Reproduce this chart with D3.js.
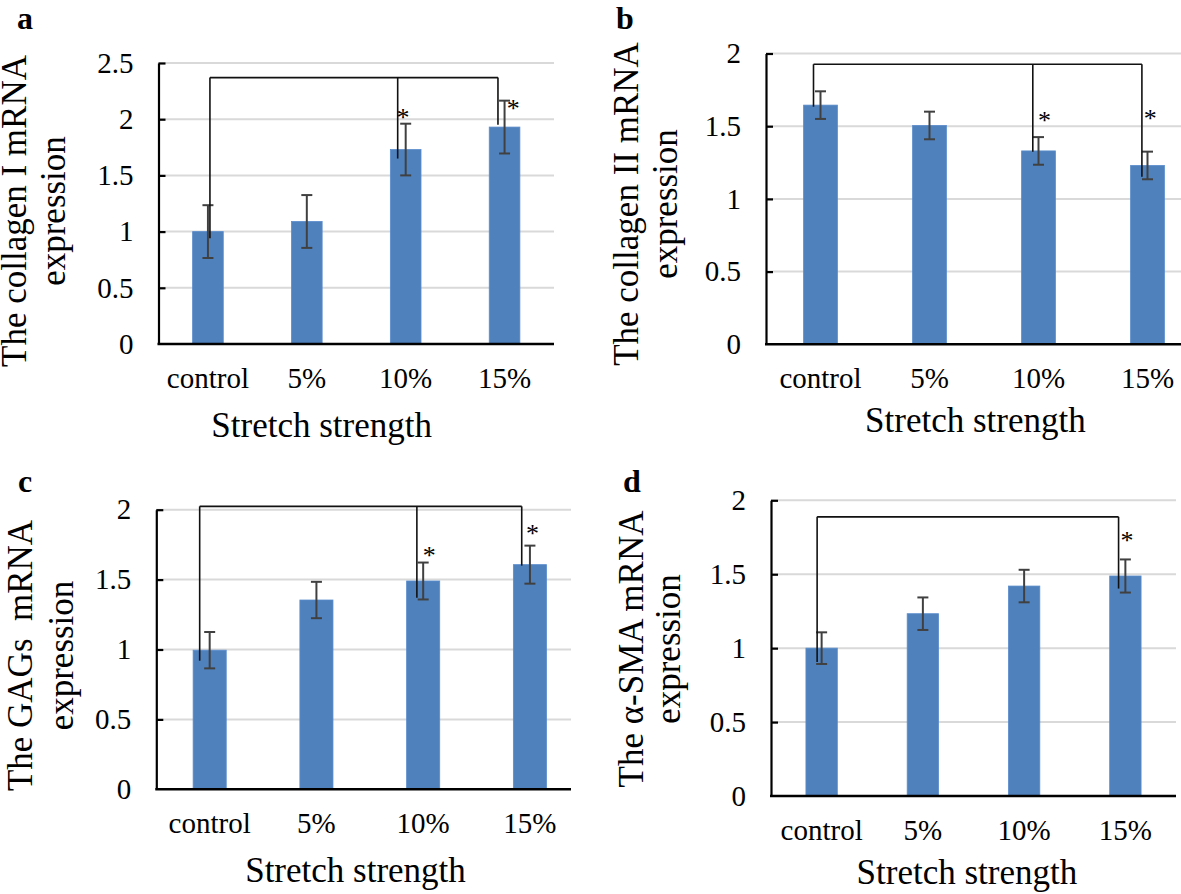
<!DOCTYPE html>
<html><head><meta charset="utf-8">
<script src="https://cdn.jsdelivr.net/npm/d3@7"></script>
<style>
body{margin:0;background:#fff}
svg{display:block;background:#fff}
text{font-family:"Liberation Serif","Times New Roman",serif;fill:#000}
</style>
</head><body>
<svg id="chart" width="1181" height="894"></svg>
<script>
// ---------- data ----------
const categories = ["control", "5%", "10%", "15%"];
const col1Mean = [1.00, 1.09, 1.73, 1.93];
const col1Err  = [0.235, 0.235, 0.23, 0.235];
const col2Mean = [1.645, 1.505, 1.33, 1.23];
const col2Err  = [0.095, 0.095, 0.095, 0.095];
const gagsMean = [0.995, 1.354, 1.49, 1.607];
const gagsErr  = [0.13, 0.13, 0.132, 0.136];
const smaMean  = [1.00, 1.233, 1.42, 1.488];
const smaErr   = [0.107, 0.11, 0.11, 0.112];
const yTicksA  = [0, 0.5, 1, 1.5, 2, 2.5];
const yTicks2  = [0, 0.5, 1, 1.5, 2];
const xTitle   = "Stretch strength";
const titleA = ["The collagen I mRNA", "expression"];
const titleB = ["The collagen II mRNA", "expression"];
const titleC = ["The GAGs\u00a0 mRNA", "expression"];
const titleD = ["The \u03b1-SMA mRNA", "expression"];
// significance brackets: bracket level, legs [category, lower end], stars [category, value]
const sigA = {level: 2.37, legs: [["control", 0.94], ["10%", 1.65], ["15%", 1.95]], stars: [["10%", 2.05], ["15%", 2.126]]};
const sigB = {level: 1.926, legs: [["control", 1.634], ["10%", 1.325], ["15%", 1.153]], stars: [["10%", 1.565], ["15%", 1.577]]};
const sigC = {level: 2.024, legs: [["control", 0.92], ["10%", 1.37], ["15%", 1.6]], stars: [["10%", 1.697], ["15%", 1.853]]};
const sigD = {level: 1.888, legs: [["control", 0.907], ["15%", 1.403]], stars: [["15%", 1.75]]};

// ---------- layout ----------
const panels = [
  {label: "a", mean: col1Mean, err: col1Err, ticks: yTicksA, ymax: 2.5, title: titleA, sig: sigA,
   L: {x0: 158.5, x1: 554, axisEnd: 554, top: 63, bottom: 344, lx: 17, ly: 29,
       ty: 211, tx1: 26, tx2: 65, xtx: 321.7, xty: 437, legDx: [2, -8, -6.6], starDx: [-2.7, 8.6]}},
  {label: "b", mean: col2Mean, err: col2Err, ticks: yTicks2, ymax: 2, title: titleB, sig: sigB,
   L: {x0: 766, x1: 1202, axisEnd: 1202, top: 53.5, bottom: 344.3, lx: 616, ly: 29,
       ty: 204, tx1: 638, tx2: 677, xtx: 975.4, xty: 431.7, legDx: [-7, -5.7, -5.6], starDx: [6, 2.7]}},
  {label: "c", mean: gagsMean, err: gagsErr, ticks: yTicks2, ymax: 2, title: titleC, sig: sigC,
   L: {x0: 156.3, x1: 583.3, axisEnd: 571, top: 509.7, bottom: 789.3, lx: 18, ly: 492,
       ty: 655.5, tx1: 32, tx2: 73, xtx: 355.5, xty: 882, legDx: [-10, -6.3, -8.2], starDx: [6, 2.5]}},
  {label: "d", mean: smaMean, err: smaErr, ticks: yTicks2, ymax: 2, title: titleD, sig: sigD,
   L: {x0: 771, x1: 1176, axisEnd: 1176, top: 500.3, bottom: 796, lx: 623, ly: 492,
       ty: 649, tx1: 643, tx2: 680, xtx: 966.9, xty: 883.7, legDx: [-4.5, -6.8], starDx: [1.5]}}
];

const svg = d3.select("#chart");
const BAR = "#4f81bd", ERR = "#404040", GRID = "#d9d9d9";

panels.forEach(p => {
  const L = p.L;
  const g = svg.append("g");
  const x = d3.scaleBand().domain(categories).range([L.x0, L.x1]).padding(0);
  const y = d3.scaleLinear().domain([0, p.ymax]).range([L.bottom, L.top]);
  const bw = x.bandwidth() * 0.31;
  const cx = c => x(c) + x.bandwidth() / 2;

  // gridlines
  g.selectAll(".grid").data(p.ticks.filter(t => t > 0)).join("line")
    .attr("x1", L.x0).attr("x2", L.axisEnd)
    .attr("y1", d => y(d)).attr("y2", d => y(d))
    .attr("stroke", GRID).attr("stroke-width", 2);

  // bars
  const rows = categories.map((c, i) => ({c, m: p.mean[i], e: p.err[i]}));
  g.selectAll(".bar").data(rows).join("rect")
    .attr("x", d => cx(d.c) - bw / 2).attr("width", bw)
    .attr("y", d => y(d.m)).attr("height", d => y(0) - y(d.m))
    .attr("fill", BAR).attr("stroke", "#5a8ccc").attr("stroke-width", 0.8);

  // error bars
  const eg = g.selectAll(".err").data(rows).join("g").attr("stroke", ERR).attr("stroke-width", 2);
  eg.append("line").attr("x1", d => cx(d.c)).attr("x2", d => cx(d.c))
    .attr("y1", d => y(d.m + d.e)).attr("y2", d => y(d.m - d.e));
  eg.append("line").attr("x1", d => cx(d.c) - 5.5).attr("x2", d => cx(d.c) + 5.5)
    .attr("y1", d => y(d.m + d.e)).attr("y2", d => y(d.m + d.e));
  eg.append("line").attr("x1", d => cx(d.c) - 5.5).attr("x2", d => cx(d.c) + 5.5)
    .attr("y1", d => y(d.m - d.e)).attr("y2", d => y(d.m - d.e));

  // significance bracket
  const legs = p.sig.legs.map((l, i) => ({x: cx(l[0]) + L.legDx[i], v: l[1]}));
  g.append("line").attr("x1", legs[0].x).attr("x2", legs[legs.length - 1].x)
    .attr("y1", y(p.sig.level)).attr("y2", y(p.sig.level))
    .attr("stroke", "#111").attr("stroke-width", 1.6);
  g.selectAll(".leg").data(legs).join("line")
    .attr("x1", d => d.x).attr("x2", d => d.x)
    .attr("y1", y(p.sig.level)).attr("y2", d => y(d.v))
    .attr("stroke", "#111").attr("stroke-width", 1.6);
  g.selectAll(".star").data(p.sig.stars).join("text")
    .attr("x", (d, i) => cx(d[0]) + L.starDx[i])
    .attr("y", d => y(d[1]) + 12)
    .attr("text-anchor", "middle").attr("font-size", 26).text("*");

  // y axis
  const ya = g.append("g").attr("transform", `translate(${L.x0},0)`)
    .call(d3.axisLeft(y).tickValues(p.ticks).tickSizeInner(-7).tickSizeOuter(0).tickPadding(25).tickFormat(d => String(d)));
  ya.attr("font-family", null).attr("font-size", 29);
  ya.selectAll("text").attr("fill", "#000");
  ya.select(".domain").attr("stroke", "#000").attr("stroke-width", 2.2);
  ya.selectAll(".tick line").attr("stroke", "#000").attr("stroke-width", 2.2);
  ya.select(".tick").filter(d => d === 0).select("line").remove();

  // x axis
  const xa = g.append("g").attr("transform", `translate(0,${L.bottom})`)
    .call(d3.axisBottom(x).tickSize(0).tickPadding(23.4));
  xa.attr("font-family", null).attr("font-size", 29);
  xa.select(".domain").remove();
  xa.selectAll("text").attr("fill", "#000");
  g.append("line").attr("x1", L.x0 - 1).attr("x2", L.axisEnd)
    .attr("y1", L.bottom).attr("y2", L.bottom)
    .attr("stroke", "#000").attr("stroke-width", 2.6);

  // titles
  g.append("text").attr("x", L.xtx).attr("y", L.xty).attr("text-anchor", "middle")
    .attr("font-size", 35).text(xTitle);
  [L.tx1, L.tx2].forEach((tx, i) => {
    g.append("text").attr("transform", `translate(${tx},${L.ty}) rotate(-90)`)
      .attr("text-anchor", "middle").attr("font-size", 35)
      .style("white-space", "pre").text(p.title[i]);
  });
  g.append("text").attr("x", L.lx).attr("y", L.ly).attr("font-size", 32)
    .attr("font-weight", "bold").text(p.label);
});
</script>
</body></html>
